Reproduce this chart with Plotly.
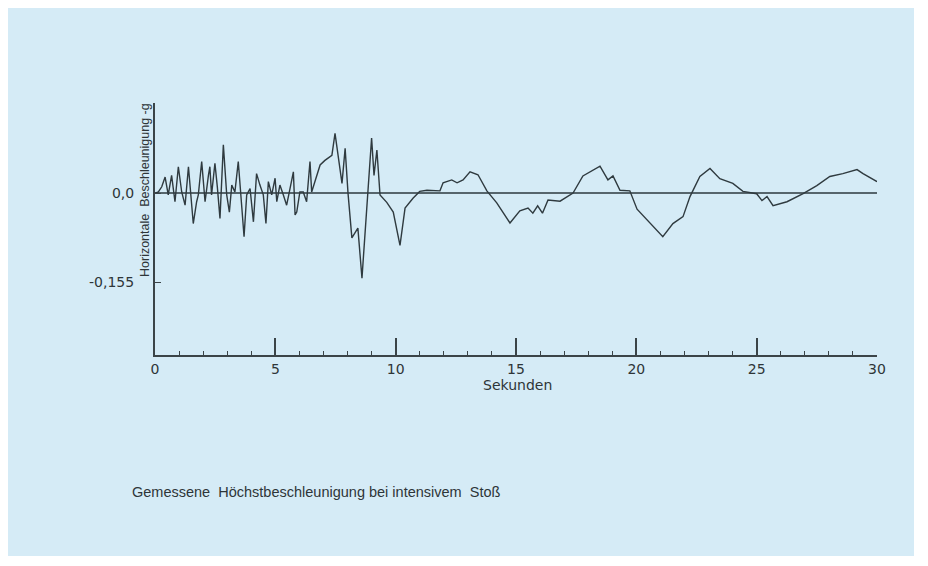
import plotly.graph_objects as go

# Time in seconds
seconds = [
    0.00, 0.14, 0.28, 0.42, 0.55, 0.69, 0.83, 0.97, 1.11, 1.25, 1.39, 1.52, 1.59, 1.73, 1.80,
    1.94, 2.08, 2.22, 2.28, 2.35, 2.49, 2.59, 2.70, 2.84, 2.98, 3.09, 3.19, 3.32, 3.46, 3.60,
    3.70, 3.81, 3.95, 4.09, 4.22, 4.36, 4.50, 4.61, 4.71, 4.85, 4.99, 5.06, 5.19, 5.33, 5.47,
    5.61, 5.75, 5.82, 5.89, 6.02, 6.16, 6.30, 6.44, 6.51, 6.65, 6.79, 6.86, 7.06, 7.27, 7.35,
    7.48, 7.62, 7.77, 7.90, 8.02, 8.18, 8.43, 8.60, 8.85, 9.00, 9.10, 9.22, 9.35, 9.63, 9.90,
    10.18, 10.39, 10.72, 11.00, 11.30, 11.84, 11.97, 12.33, 12.55, 12.80, 13.09, 13.42, 13.79,
    14.20, 14.75, 15.16, 15.50, 15.70, 15.90, 16.10, 16.33, 16.83, 17.37, 17.78, 18.49, 18.82,
    19.03, 19.32, 19.73, 20.03, 20.56, 21.10, 21.52, 21.94, 22.23, 22.64, 23.06, 23.47, 24.01,
    24.43, 25.00, 25.22, 25.43, 25.68, 26.26, 26.93, 27.50, 28.04, 28.58, 29.17, 29.42, 30.00,
]

# Horizontal acceleration in g
acceleration = [
    0.000, 0.002, 0.011, 0.028, -0.003, 0.031, -0.015, 0.046, 0.002, -0.021, 0.046, -0.021, -0.053, -0.015, -0.003,
    0.055, -0.015, 0.031, 0.046, -0.003, 0.052, 0.011, -0.044, 0.084, -0.003, -0.033, 0.014, 0.002, 0.055, -0.021,
    -0.076, -0.003, 0.008, -0.050, 0.034, 0.014, -0.003, -0.053, 0.020, -0.003, 0.026, -0.015, 0.014, -0.003, -0.021,
    0.008, 0.037, -0.038, -0.033, 0.002, 0.002, -0.015, 0.055, 0.002, 0.020, 0.037, 0.049, 0.057, 0.063, 0.066,
    0.104, 0.060, 0.017, 0.078, 0.000, -0.078, -0.061, -0.148, 0.000, 0.096, 0.031, 0.075, -0.003, -0.016, -0.033,
    -0.091, -0.026, -0.009, 0.003, 0.005, 0.004, 0.018, 0.023, 0.018, 0.023, 0.037, 0.032, 0.004,
    -0.017, -0.052, -0.031, -0.026, -0.035, -0.022, -0.035, -0.012, -0.014, 0.000, 0.030, 0.047, 0.023,
    0.030, 0.005, 0.004, -0.028, -0.052, -0.076, -0.053, -0.041, -0.006, 0.029, 0.043, 0.025, 0.017,
    0.003, -0.001, -0.013, -0.006, -0.022, -0.015, -0.001, 0.013, 0.029, 0.034, 0.041, 0.034, 0.020,
]

x_tick_values = [0, 5, 10, 15, 20, 25, 30]
x_tick_labels = ["0", "5", "10", "15", "20", "25", "30"]
y_tick_values = [0.0, -0.155]
y_tick_labels = ["0,0", "-0,155"]

FONT = "Liberation Sans"
TICKFONT = "DejaVu Sans"
TEXT = "#2e3538"
AXIS = "#3b4448"
BG = "#d5ebf6"

fig = go.Figure()
fig.add_trace(go.Scatter(
    x=seconds, y=acceleration, mode="lines",
    line=dict(color="#2f3a3f", width=1.4),
    showlegend=False, hoverinfo="skip",
))

# page has an 8px body margin; work in page pixels and convert
OFF = 8
W, H = 928 - OFF, 566 - OFF
L, T = 155 - OFF, 103 - OFF
PR, PB = 877 - OFF, 355 - OFF
R, B = W - PR, H - PB
pw, ph = PR - L, PB - T

def px_x(p):
    return (p - OFF - L) / pw

def px_y(p):
    return (PB - (p - OFF)) / ph

fig.update_layout(
    width=W, height=H,
    margin=dict(l=L, r=R, t=T, b=B),
    paper_bgcolor="white",
    plot_bgcolor="rgba(0,0,0,0)",
    font=dict(family=FONT, size=14, color=TEXT),
    xaxis=dict(
        range=[0, 30], showgrid=False, zeroline=False,
        showline=True, linecolor=AXIS, linewidth=2,
        tickmode="array", tickvals=x_tick_values, ticktext=x_tick_labels,
        ticks="inside", ticklen=17, tickwidth=1.5, tickcolor=AXIS,
        minor=dict(dtick=1, ticks="inside", ticklen=4, tickcolor=AXIS, tickwidth=1.2),
        tickfont=dict(family=TICKFONT, size=14, color=TEXT),
    ),
    yaxis=dict(
        range=[-0.282, 0.157], showgrid=False,
        zeroline=True, zerolinecolor="#56656c", zerolinewidth=2,
        showline=True, linecolor=AXIS, linewidth=2,
        tickmode="array", tickvals=y_tick_values, ticktext=y_tick_labels,
        ticks="inside", ticklen=6, tickwidth=1.2, tickcolor=AXIS,
        ticklabelstandoff=16,
        tickfont=dict(family=TICKFONT, size=14, color=TEXT),
    ),
    shapes=[dict(
        type="rect", xref="paper", yref="paper", layer="below",
        x0=px_x(8), x1=px_x(914), y0=px_y(556), y1=px_y(8),
        fillcolor=BG, line=dict(width=0),
    )],
    annotations=[
        dict(text="Horizontale  Beschleunigung -g", xref="paper", yref="paper",
             x=px_x(145), y=px_y(190), textangle=-90, showarrow=False,
             xanchor="center", yanchor="middle",
             font=dict(family=FONT, size=12.5, color=TEXT)),
        dict(text="Sekunden", xref="paper", yref="paper",
             x=px_x(517), y=px_y(385), showarrow=False,
             xanchor="center", yanchor="middle",
             font=dict(family=TICKFONT, size=14, color=TEXT)),
        dict(text="Gemessene  Höchstbeschleunigung bei intensivem  Stoß", xref="paper", yref="paper",
             x=px_x(130), y=px_y(492), showarrow=False,
             xanchor="left", yanchor="middle",
             font=dict(family=FONT, size=14.5, color=TEXT)),
    ],
)

fig.write_html("out.html")
